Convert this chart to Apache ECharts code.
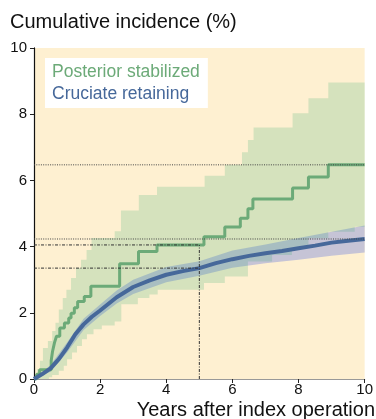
<!DOCTYPE html>
<html><head><meta charset="utf-8">
<script src="https://cdn.jsdelivr.net/npm/echarts@6/dist/echarts.min.js"></script>
<style>html,body{margin:0;padding:0;background:#fff}#c{width:376px;height:419px}</style>
</head><body><div id="c"></div>
<script>
const FONT = '"Liberation Sans", Arial, Helvetica, sans-serif';
const titleText = 'Cumulative incidence (%)';
const xAxisTitle = 'Years after index operation';
const seriesNames = ['Posterior stabilized', 'Cruciate retaining'];
const xTicks = [0, 2, 4, 6, 8, 10];
const yTicks = [0, 2, 4, 6, 8, 10];

// Posterior stabilized: Kaplan-Meier style step curve [years, %]
const psLine = [[0,0],[0.08,0.14],[0.17,0.28],[0.52,0.55],[0.56,0.83],[0.62,1.1],[0.68,1.29],[0.78,1.54],[0.92,1.69],[1.05,1.84],[1.12,1.99],[1.22,2.15],[1.32,2.34],[1.52,2.49],[1.72,2.80],[2.59,3.48],[3.16,3.85],[3.72,4.05],[5.14,4.30],[5.77,4.59],[6.24,4.86],[6.47,5.14],[6.62,5.44],[7.82,5.77],[8.30,6.10],[8.90,6.47],[10,6.47]];
const psUpper = [[0,0],[0.05,0.14],[0.1,0.3],[0.18,0.55],[0.27,0.94],[0.42,1.15],[0.55,1.45],[0.65,1.7],[0.75,2.1],[0.87,2.45],[0.98,2.7],[1.12,3.05],[1.27,3.35],[1.42,3.6],[1.59,3.9],[1.74,4.26],[2.44,4.46],[2.63,5.09],[3.17,5.56],[3.72,5.81],[5.16,6.14],[5.77,6.47],[6.29,6.85],[6.47,7.22],[6.64,7.6],[7.82,8.03],[8.30,8.48],[8.90,8.96],[10,8.96]];
const psLower = [[0,0],[0.45,0.05],[0.55,0.12],[0.75,0.25],[0.9,0.4],[1.0,0.6],[1.15,0.8],[1.3,1.0],[1.45,1.2],[1.6,1.35],[1.8,1.5],[2.05,1.62],[2.44,1.74],[2.64,2.26],[3.14,2.45],[3.49,2.55],[3.74,2.70],[5.14,2.90],[5.77,3.10],[6.47,3.55],[7.2,3.75],[7.8,3.95],[8.3,4.25],[8.9,4.45],[9.7,4.6],[10,4.6]];

// Cruciate retaining
const crLine = [[0,0],[0.25,0.15],[0.5,0.32],[0.75,0.6],[1.0,0.95],[1.25,1.35],[1.5,1.65],[1.75,1.88],[2.0,2.07],[2.5,2.47],[3.0,2.78],[3.5,2.98],[4.0,3.15],[4.5,3.26],[5.0,3.35],[5.5,3.5],[6.0,3.62],[6.5,3.72],[7.0,3.80],[7.5,3.87],[8.0,3.95],[8.5,4.03],[9.0,4.12],[9.5,4.18],[10,4.23]];
const crUpper = [[0,0],[0.5,0.42],[1,1.1],[1.5,1.82],[2,2.25],[2.5,2.67],[3,3.0],[4,3.38],[5,3.56],[6,3.88],[7,4.06],[8,4.26],[9,4.45],[10,4.64]];
const crLower = [[0,0],[0.5,0.22],[1,0.8],[1.5,1.48],[2,1.9],[2.5,2.28],[3,2.57],[4,2.92],[5,3.12],[6,3.36],[7,3.5],[8,3.6],[9,3.72],[10,3.82]];

// Reference lines
const refFullDotted = [6.47, 4.23];      // across whole range
const refAtYearDashDot = [4.05, 3.35];   // from 0 to the marked year
const refYear = 5;

function stepVerts(arr) {
  const out = [];
  for (let i = 0; i < arr.length; i++) {
    out.push(arr[i]);
    if (i < arr.length - 1) out.push([arr[i + 1][0], arr[i][1]]);
  }
  return out;
}
function bandSeries(upperVerts, lowerVerts, fill, z) {
  const poly = upperVerts.concat(lowerVerts.slice().reverse());
  return {
    type: 'custom', z: z, silent: true, clip: true,
    data: [[0, 0]],
    renderItem: function (params, api) {
      return { type: 'polygon', shape: { points: poly.map(p => api.coord(p)) }, style: { fill: fill } };
    }
  };
}

const refSeries = [];
refFullDotted.forEach(v => refSeries.push({
  type: 'line', data: [[xTicks[0], v], [xTicks[xTicks.length - 1], v]], symbol: 'none', silent: true, z: 5,
  lineStyle: { color: '#444', width: 1, type: [1, 1.3] }
}));
refAtYearDashDot.forEach(v => refSeries.push({
  type: 'line', data: [[0, v], [refYear, v]], symbol: 'none', silent: true, z: 5,
  lineStyle: { color: '#333', width: 1, type: [3, 1.5, 1, 1.5] }
}));
refSeries.push({
  type: 'line', data: [[refYear, 0], [refYear, refAtYearDashDot[0]]], symbol: 'none', silent: true, z: 5,
  lineStyle: { color: '#333', width: 1, type: [3, 1.5, 1, 1.5] }
});

const chart = echarts.init(document.getElementById('c'), null, { renderer: 'canvas' });
chart.setOption({
  animation: false,
  backgroundColor: '#fff',
  title: { text: titleText, left: 10, top: 12, padding: 0, textStyle: { fontFamily: FONT, fontSize: 20, fontWeight: 'normal', color: '#111' } },
  legend: {
    orient: 'vertical', left: 45, top: 58, itemWidth: 0, itemHeight: 10, itemGap: 4,
    backgroundColor: '#fff', padding: [5, 8, 5, 2], selectedMode: false,
    textStyle: { fontFamily: FONT, fontSize: 17.5 },
    data: [
      { name: seriesNames[0], icon: 'none', textStyle: { color: '#6caa78' } },
      { name: seriesNames[1], icon: 'none', textStyle: { color: '#46689a' } }
    ]
  },
  grid: { left: 34, right: 9, top: 48, bottom: 40, show: true, backgroundColor: '#fef0d1', borderWidth: 0 },
  xAxis: [{
    type: 'value', min: 0, max: 10, interval: 2,
    axisLine: { show: true, onZero: false, lineStyle: { color: '#222', width: 1 } },
    axisTick: { show: true, length: 4, lineStyle: { color: '#222' } },
    axisLabel: { margin: 3, fontFamily: FONT, fontSize: 15, color: '#111' },
    splitLine: { show: false }
  }, {
    type: 'value', min: 0, max: 10, position: 'top',
    axisLine: { show: true, lineStyle: { color: '#999', width: 1 } },
    axisTick: { show: false }, axisLabel: { show: false }, splitLine: { show: false }
  }],
  yAxis: [{
    type: 'value', min: 0, max: 10, interval: 2,
    axisLine: { show: true, onZero: false, lineStyle: { color: '#222', width: 1 } },
    axisTick: { show: true, length: 4, lineStyle: { color: '#222' } },
    axisLabel: { margin: 7, fontFamily: FONT, fontSize: 15, color: '#111' },
    splitLine: { show: false }
  }, {
    type: 'value', min: 0, max: 10, position: 'right',
    axisLine: { show: true, lineStyle: { color: '#111', width: 1.2 } },
    axisTick: { show: false }, axisLabel: { show: false }, splitLine: { show: false }
  }],
  graphic: [{
    type: 'text', right: 1, top: 400,
    style: { text: xAxisTitle, font: '20px ' + FONT, fill: '#111' }
  }],
  series: [
    bandSeries(crUpper, crLower, '#c6c4d6', 1),
    bandSeries(stepVerts(psUpper), stepVerts(psLower), 'rgba(50,170,110,0.2)', 2),
    {
      name: seriesNames[0], type: 'line', step: 'end', data: psLine, symbol: 'none', z: 3,
      lineStyle: { color: '#6caa78', width: 3 }, itemStyle: { color: '#6caa78' }
    },
    {
      name: seriesNames[1], type: 'line', data: crLine, symbol: 'none', z: 4,
      lineStyle: { color: '#46689a', width: 4 }, itemStyle: { color: '#46689a' }
    }
  ].concat(refSeries)
});
</script></body></html>
